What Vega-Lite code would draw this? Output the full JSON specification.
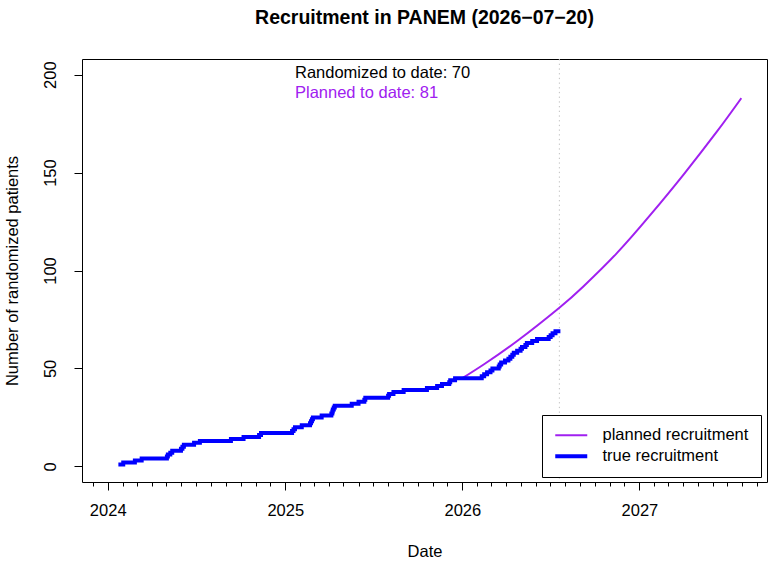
{
  "$schema": "https://vega.github.io/schema/vega-lite/v6.json",
  "width": 685,
  "height": 423,
  "autosize": {"type": "none"},
  "padding": {"left": 82, "top": 59, "right": 1, "bottom": 84},
  "background": "white",
  "title": {
    "text": "Recruitment in PANEM (2026−07−20)",
    "fontSize": 19.5,
    "fontWeight": "bold",
    "color": "black",
    "anchor": "middle",
    "offset": 30
  },
  "config": {
    "font": "Liberation Sans",
    "view": {"stroke": "black", "strokeWidth": 1}
  },
  "encoding": {
    "x": {
      "field": "date",
      "type": "temporal",
      "title": "Date",
      "scale": {
        "type": "utc",
        "nice": false,
        "domain": [
          {"year": 2023, "month": 11, "date": 9, "utc": true},
          {"year": 2027, "month": 9, "date": 21, "utc": true}
        ]
      },
      "axis": {
        "domain": false,
        "grid": false,
        "tickCount": {"interval": "month", "step": 1},
        "tickSize": {"condition": {"test": "utcmonth(datum.value) == 0", "value": 8}, "value": 4},
        "tickColor": "black",
        "labelExpr": "utcmonth(datum.value) == 0 ? utcFormat(datum.value, '%Y') : ''",
        "labelOverlap": false,
        "labelFlush": false,
        "labelBound": false,
        "labelPadding": 12,
        "labelFontSize": 16.5,
        "labelColor": "black",
        "titleFontSize": 16.5,
        "titleFontWeight": "normal",
        "titleColor": "black",
        "titlePadding": 25
      }
    },
    "y": {
      "field": "n",
      "type": "quantitative",
      "title": "Number of randomized patients",
      "scale": {"domain": [-8, 208], "nice": false, "zero": false},
      "axis": {
        "domain": false,
        "grid": false,
        "values": [0, 50, 100, 150, 200],
        "tickSize": 8,
        "tickColor": "black",
        "labelAngle": -90,
        "labelAlign": "center",
        "labelBaseline": "bottom",
        "labelPadding": 16,
        "labelFontSize": 16.5,
        "labelColor": "black",
        "titleFontSize": 16.5,
        "titleFontWeight": "normal",
        "titleColor": "black",
        "titlePadding": 21.5
      }
    }
  },
  "layer": [
    {
      "data": {"values": [{"date": "2026-07-20"}]},
      "mark": {"type": "rule", "color": "#c0c0c0", "strokeWidth": 1, "strokeDash": [1.3, 3.4]},
      "encoding": {
        "y": null
      }
    },
    {
      "encoding": {
        "color": {
          "field": "series",
          "type": "nominal",
          "scale": {"domain": ["planned recruitment", "true recruitment"], "range": ["#A020F0", "#0000FF"]},
          "legend": {
            "title": null,
            "orient": "none",
            "legendX": 460,
            "legendY": 356,
            "symbolType": "M-3.2,0H3.2",
            "symbolSize": 100,
            "symbolOffset": 9,
            "strokeColor": "black",
            "fillColor": "white",
            "padding": 12,
            "rowPadding": 4,
            "labelOffset": 23,
            "labelFontSize": 16.5,
            "labelColor": "black"
          }
        },
        "strokeWidth": {
          "field": "series",
          "type": "nominal",
          "scale": {"domain": ["planned recruitment", "true recruitment"], "range": [2, 4]},
          "legend": {
            "title": null,
            "orient": "none",
            "legendX": 460,
            "legendY": 356,
            "symbolType": "M-3.2,0H3.2",
            "symbolSize": 100,
            "symbolOffset": 9,
            "strokeColor": "black",
            "fillColor": "white",
            "padding": 12,
            "rowPadding": 4,
            "labelOffset": 23,
            "labelFontSize": 16.5,
            "labelColor": "black"
          }
        }
      },
      "layer": [
        {
          "data": {
            "values": [
              {"date": "2026-01-01", "n": 45, "series": "planned recruitment"},
              {"date": "2026-02-14", "n": 52, "series": "planned recruitment"},
              {"date": "2026-04-24", "n": 64, "series": "planned recruitment"},
              {"date": "2026-07-20", "n": 81, "series": "planned recruitment"},
              {"date": "2026-09-08", "n": 92, "series": "planned recruitment"},
              {"date": "2026-11-16", "n": 109, "series": "planned recruitment"},
              {"date": "2027-01-24", "n": 128.5, "series": "planned recruitment"},
              {"date": "2027-04-02", "n": 149, "series": "planned recruitment"},
              {"date": "2027-06-10", "n": 171, "series": "planned recruitment"},
              {"date": "2027-07-30", "n": 188, "series": "planned recruitment"}
            ]
          },
          "mark": {"type": "line", "interpolate": "natural"}
        },
        {
          "data": {
            "values": [
              {"date": "2024-01-23", "n": 1, "series": "true recruitment"},
              {"date": "2024-02-02", "n": 2, "series": "true recruitment"},
              {"date": "2024-02-26", "n": 3, "series": "true recruitment"},
              {"date": "2024-03-11", "n": 4, "series": "true recruitment"},
              {"date": "2024-05-02", "n": 5, "series": "true recruitment"},
              {"date": "2024-05-04", "n": 6, "series": "true recruitment"},
              {"date": "2024-05-09", "n": 7, "series": "true recruitment"},
              {"date": "2024-05-13", "n": 8, "series": "true recruitment"},
              {"date": "2024-05-31", "n": 9, "series": "true recruitment"},
              {"date": "2024-06-03", "n": 10, "series": "true recruitment"},
              {"date": "2024-06-06", "n": 11, "series": "true recruitment"},
              {"date": "2024-06-27", "n": 12, "series": "true recruitment"},
              {"date": "2024-07-09", "n": 13, "series": "true recruitment"},
              {"date": "2024-09-11", "n": 14, "series": "true recruitment"},
              {"date": "2024-10-07", "n": 15, "series": "true recruitment"},
              {"date": "2024-11-08", "n": 16, "series": "true recruitment"},
              {"date": "2024-11-12", "n": 17, "series": "true recruitment"},
              {"date": "2025-01-15", "n": 18, "series": "true recruitment"},
              {"date": "2025-01-18", "n": 19, "series": "true recruitment"},
              {"date": "2025-01-21", "n": 20, "series": "true recruitment"},
              {"date": "2025-02-04", "n": 21, "series": "true recruitment"},
              {"date": "2025-02-21", "n": 22, "series": "true recruitment"},
              {"date": "2025-02-23", "n": 23, "series": "true recruitment"},
              {"date": "2025-02-25", "n": 24, "series": "true recruitment"},
              {"date": "2025-02-27", "n": 25, "series": "true recruitment"},
              {"date": "2025-03-17", "n": 26, "series": "true recruitment"},
              {"date": "2025-04-06", "n": 27, "series": "true recruitment"},
              {"date": "2025-04-08", "n": 28, "series": "true recruitment"},
              {"date": "2025-04-09", "n": 29, "series": "true recruitment"},
              {"date": "2025-04-11", "n": 30, "series": "true recruitment"},
              {"date": "2025-04-13", "n": 31, "series": "true recruitment"},
              {"date": "2025-05-18", "n": 32, "series": "true recruitment"},
              {"date": "2025-06-01", "n": 33, "series": "true recruitment"},
              {"date": "2025-06-13", "n": 34, "series": "true recruitment"},
              {"date": "2025-06-15", "n": 35, "series": "true recruitment"},
              {"date": "2025-08-01", "n": 36, "series": "true recruitment"},
              {"date": "2025-08-03", "n": 37, "series": "true recruitment"},
              {"date": "2025-08-12", "n": 38, "series": "true recruitment"},
              {"date": "2025-09-02", "n": 39, "series": "true recruitment"},
              {"date": "2025-10-20", "n": 40, "series": "true recruitment"},
              {"date": "2025-11-10", "n": 41, "series": "true recruitment"},
              {"date": "2025-11-20", "n": 42, "series": "true recruitment"},
              {"date": "2025-12-05", "n": 43, "series": "true recruitment"},
              {"date": "2025-12-07", "n": 44, "series": "true recruitment"},
              {"date": "2025-12-17", "n": 45, "series": "true recruitment"},
              {"date": "2026-02-10", "n": 46, "series": "true recruitment"},
              {"date": "2026-02-15", "n": 47, "series": "true recruitment"},
              {"date": "2026-02-21", "n": 48, "series": "true recruitment"},
              {"date": "2026-02-28", "n": 49, "series": "true recruitment"},
              {"date": "2026-03-04", "n": 50, "series": "true recruitment"},
              {"date": "2026-03-17", "n": 51, "series": "true recruitment"},
              {"date": "2026-03-19", "n": 52, "series": "true recruitment"},
              {"date": "2026-03-22", "n": 53, "series": "true recruitment"},
              {"date": "2026-03-30", "n": 54, "series": "true recruitment"},
              {"date": "2026-04-06", "n": 55, "series": "true recruitment"},
              {"date": "2026-04-10", "n": 56, "series": "true recruitment"},
              {"date": "2026-04-14", "n": 57, "series": "true recruitment"},
              {"date": "2026-04-17", "n": 58, "series": "true recruitment"},
              {"date": "2026-04-24", "n": 59, "series": "true recruitment"},
              {"date": "2026-05-01", "n": 60, "series": "true recruitment"},
              {"date": "2026-05-04", "n": 61, "series": "true recruitment"},
              {"date": "2026-05-11", "n": 62, "series": "true recruitment"},
              {"date": "2026-05-14", "n": 63, "series": "true recruitment"},
              {"date": "2026-05-25", "n": 64, "series": "true recruitment"},
              {"date": "2026-06-04", "n": 65, "series": "true recruitment"},
              {"date": "2026-06-28", "n": 66, "series": "true recruitment"},
              {"date": "2026-07-02", "n": 67, "series": "true recruitment"},
              {"date": "2026-07-06", "n": 68, "series": "true recruitment"},
              {"date": "2026-07-12", "n": 69, "series": "true recruitment"},
              {"date": "2026-07-18", "n": 70, "series": "true recruitment"}
            ]
          },
          "mark": {"type": "line", "interpolate": "step-after"}
        }
      ]
    },
    {
      "data": {"values": [{"date": "2025-01-21", "n": 200.7, "label": "Randomized to date: 70"}]},
      "mark": {"type": "text", "align": "left", "baseline": "middle", "fontSize": 16.5, "color": "black"},
      "encoding": {"text": {"field": "label"}}
    },
    {
      "data": {"values": [{"date": "2025-01-21", "n": 190.5, "label": "Planned to date: 81"}]},
      "mark": {"type": "text", "align": "left", "baseline": "middle", "fontSize": 16.5, "color": "#A020F0"},
      "encoding": {"text": {"field": "label"}}
    }
  ]
}
